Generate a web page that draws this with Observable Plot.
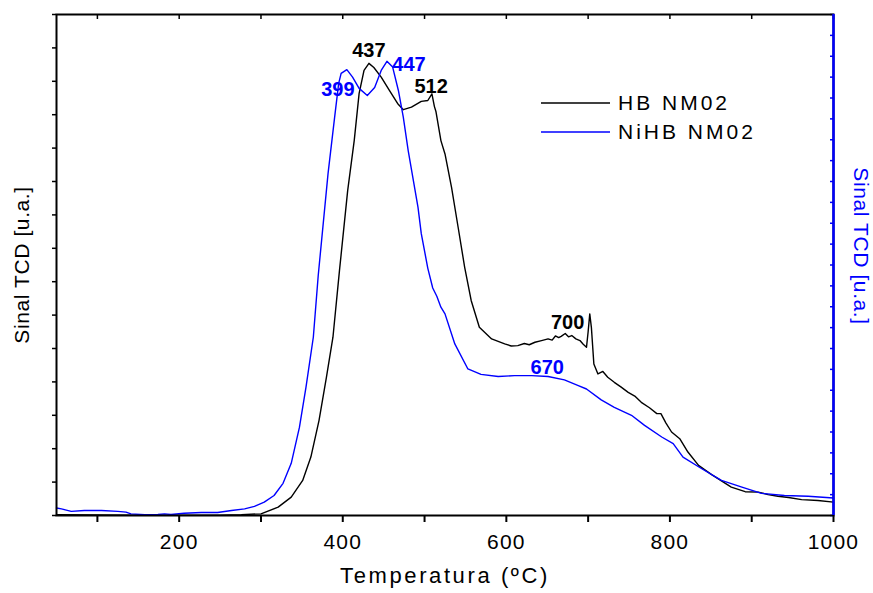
<!DOCTYPE html>
<html><head><meta charset="utf-8">
<script src="https://cdn.jsdelivr.net/npm/d3@7"></script>
<script src="https://cdn.jsdelivr.net/npm/@observablehq/plot@0.6"></script>
<style>
body{margin:0;background:#fff;}
#chart{position:relative;width:873px;height:593px;font-family:"Liberation Sans",Arial,sans-serif;}
#chart svg{font-family:"Liberation Sans",Arial,sans-serif;}
g[aria-label="x-axis tick label"]{letter-spacing:1.2px;}
.legend{position:absolute;left:541px;top:88px;}
.legend .row{display:flex;align-items:center;height:29px;}
.legend svg.sw{display:block;margin-right:8px;}
.legend .lb{font-size:21px;letter-spacing:3px;color:#000;}
</style>
</head><body>
<div id="chart"></div>
<script>
// Series names and colours
const seriesNames = ["HB NM02", "NiHB NM02"];
const seriesColors = ["#000000", "#0000ff"];

// HB NM02 (black)
const hbTemp = [50,150,250,276,300,321,337,351,361,371,380,388,396,406,414,420,426,432,438,447,457,467,474,484,496,504,509,512,514,520,525,533,541,549,557,567,582,598,606,614,622,628,635,643,651,656,660,664,667,672,676,680,685,690,694,698,700,702,704,707,712,718,724,732,740,749,757,765,775,784,789,795,802,812,822,835,851,863,875,892,908,920,932,945,961,981,1000];
const hbSignal = [0.2,0.1,0.1,0.2,0.4,2.0,4.4,8.4,14.0,22.8,33.1,42.7,58.7,77.8,89.8,101.1,106.6,108.3,107.3,105.0,101.8,98.7,97.2,97.8,99.2,99.4,101.0,98.0,96.7,89.8,86.6,78.6,69.1,59.5,51.5,45.1,42.3,41.1,40.6,40.7,41.2,40.9,41.5,41.9,42.3,42.0,43.0,42.6,42.9,43.6,42.8,43.1,42.3,41.9,41.0,40.3,44.0,48.3,45.0,36.3,33.9,34.5,33.1,31.9,30.8,29.5,28.6,27.1,25.8,24.4,24.4,22.2,20.0,18.4,15.2,12.0,9.8,8.3,6.8,5.7,5.6,5.0,4.6,4.3,3.8,3.6,3.2];

// NiHB NM02 (blue)
const nihbTemp = [50,56,68,84,105,125,135,141,158,174,182,190,206,227,247,264,280,292,304,316,327,337,347,355,364,370,382,390,395,398,405,412,420,430,439,447,454,461,468,474,480,492,496,504,510,515,520,525,537,553,569,590,610,631,651,671,688,698,716,732,753,769,790,804,816,839,863,888,912,940,969,1000];
const nihbSignal = [1.8,1.6,1.0,1.2,1.2,1.0,0.8,0.4,0.17,0.24,0.4,0.24,0.55,0.72,0.72,1.2,1.6,2.2,3.2,4.8,7.7,12.5,21.1,30.7,42.7,57.5,81.9,95.3,103.5,105.9,106.8,105.0,102.3,100.6,102.5,106.6,108.8,107.4,101.8,95.4,87.4,73.8,67.5,59.2,54.5,52.5,49.9,48.3,41.1,35.1,33.8,33.3,33.5,33.5,33.3,32.5,31.1,30.3,27.7,25.9,24.0,21.6,18.8,17.2,14.0,11.2,8.4,6.8,5.3,4.8,4.6,4.2];

// Peak annotations
const peakText = ["437","399","447","512","700","670"];
const peakTemp = [432,394,481,508,675,650];
const peakSignal = [111.4,102.1,107.9,102.7,46.2,35.5];
const peakSeries = [0,1,1,0,0,1];

// Axes
const xDomain = [50, 1000];
const yDomain = [0, 120];
const xTicks = d3.range(100, 1001, 100);
const xLabeledTicks = [200, 400, 600, 800, 1000];
const yLeftTicks = d3.range(0, 121, 8);
const yRightTicks = d3.range(0, 121, 5);
const xTitle = "Temperatura (ºC)";
const yTitle = "Sinal TCD [u.a.]";

const hb = hbTemp.map((t, i) => ({t, v: hbSignal[i]}));
const nihb = nihbTemp.map((t, i) => ({t, v: nihbSignal[i]}));
const peaks = peakText.map((s, i) => ({s, t: peakTemp[i], v: peakSignal[i], c: seriesColors[peakSeries[i]]}));

const plot = Plot.plot({
  width: 873, height: 593,
  marginLeft: 56, marginRight: 40, marginTop: 14, marginBottom: 78,
  style: {fontFamily: '"Liberation Sans", Arial, sans-serif', background: "white", overflow: "visible"},
  x: {domain: xDomain},
  y: {domain: yDomain},
  marks: [
    Plot.line(hb, {x: "t", y: "v", stroke: seriesColors[0], strokeWidth: 1.4}),
    Plot.line(nihb, {x: "t", y: "v", stroke: seriesColors[1], strokeWidth: 1.4}),
    Plot.axisX({ticks: xTicks, tickSize: 7, tickPadding: 12, fontSize: 21, fill: "#000", stroke: "#000", strokeWidth: 2,
      tickFormat: d => xLabeledTicks.includes(d) ? String(d) : "", label: null}),
    Plot.axisX({anchor: "top", ticks: xTicks, tickSize: 4, dy: 4, strokeWidth: 1.5, tickFormat: () => "", label: null}),
    Plot.axisY({ticks: yLeftTicks, tickSize: 4, strokeWidth: 1.5, tickFormat: () => "", label: null}),
    Plot.axisY({anchor: "right", ticks: yRightTicks, tickSize: 4, dx: -4, stroke: seriesColors[1], strokeWidth: 1.5, tickFormat: () => "", label: null}),
    Plot.frame({stroke: "#000", strokeWidth: 2}),
    Plot.ruleX([xDomain[1]], {stroke: seriesColors[1], strokeWidth: 2.5}),
    Plot.text(peaks, {x: "t", y: "v", text: "s", fill: "c", fontSize: 20, fontWeight: "bold"}),
    Plot.text([xTitle], {text: d => d, frameAnchor: "bottom", textAnchor: "middle", dy: 67, fontSize: 22, fill: "#000"}),
    Plot.text([yTitle], {text: d => d, frameAnchor: "left", textAnchor: "middle", rotate: -90, dx: -34, fontSize: 21, fill: "#000"}),
    Plot.text([yTitle], {text: d => d, frameAnchor: "right", textAnchor: "middle", rotate: 90, dx: 27, dy: -19, fontSize: 21, fill: seriesColors[1]})
  ]
});

// letter spacing of the titles
d3.select(plot).selectAll("text")
  .filter(function() { return this.textContent === xTitle; })
  .style("letter-spacing", "2.6px");
d3.select(plot).selectAll("text")
  .filter(function() { return this.textContent === yTitle; })
  .style("letter-spacing", "0.6px");

const chart = document.getElementById("chart");
chart.appendChild(plot);

const legend = d3.select(chart).append("div").attr("class", "legend");
seriesNames.forEach((name, i) => {
  const row = legend.append("div").attr("class", "row");
  const sw = row.append("svg").attr("class", "sw").attr("width", 69).attr("height", 6);
  sw.append("line").attr("x1", 0).attr("x2", 69).attr("y1", 3).attr("y2", 3)
    .attr("stroke", seriesColors[i]).attr("stroke-width", 1.4);
  row.append("span").attr("class", "lb").text(name);
});
</script>
</body></html>
